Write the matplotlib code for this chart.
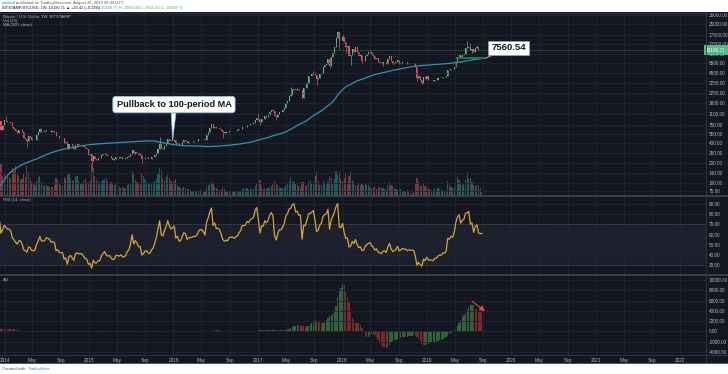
import numpy as np
import pandas as pd
import matplotlib
matplotlib.use("Agg")
import matplotlib.pyplot as plt
import matplotlib.dates as mdates
from matplotlib.patches import Rectangle
from matplotlib.lines import Line2D
from matplotlib.ticker import FixedLocator, FixedFormatter, NullLocator

plt.rcParams['font.family'] = ['Liberation Sans', 'DejaVu Sans']

# weekly closes BITSTAMP:BTCUSD, weeks start on Monday, one list per year
close_2012 = [6.9, 6.4, 6.3, 5.9, 6.0, 5.8, 4.4, 4.9, 4.9, 4.9, 5.3, 4.7, 4.9,
              4.9, 4.9, 5.0, 5.1, 5.0, 5.0, 5.0, 5.1, 5.2, 5.5, 6.0, 6.5, 6.7,
              6.8, 7.4, 8.6, 8.8, 9.4, 11.0, 11.6, 10.2, 10.6, 11.0, 11.6, 12.3,
              12.4, 12.5, 11.9, 11.8, 11.3, 10.8, 10.9, 11.3, 11.8, 12.4, 13.3,
              13.6, 13.3, 13.4, 13.6]
close_2013 = [14.1, 15.6, 17.3, 19.6, 22.0, 26.3, 29.8, 34.2, 46.9, 47.1, 65.0,
              93.0, 165, 90, 120, 127, 112, 117, 121, 133, 129, 107, 99, 107,
              95, 77, 96, 91, 95, 97, 104, 105, 122, 127, 120, 134, 127, 132,
              125, 135, 159, 188, 204, 330, 430, 780, 1030, 760, 850, 620, 740,
              900]
close_2014 = [870, 830, 840, 810, 690, 650, 600, 565, 630, 635, 580, 470, 450,
              420, 500, 490, 440, 435, 445, 525, 575, 650, 590, 590, 595, 635,
              630, 620, 590, 595, 590, 500, 510, 480, 475, 475, 400, 410, 320,
              380, 390, 355, 325, 375, 385, 375, 375, 375, 350, 330, 320, 265]
close_2015 = [270, 210, 255, 225, 222, 235, 235, 260, 274, 285, 260, 250, 253,
              235, 223, 225, 240, 240, 235, 240, 230, 228, 233, 245, 250, 270,
              310, 275, 290, 280, 265, 265, 225, 230, 240, 240, 230, 230, 240,
              245, 262, 282, 325, 385, 330, 325, 360, 395, 460, 435, 420, 430]
close_2016 = [448, 385, 400, 370, 375, 405, 437, 430, 400, 412, 412, 416, 420,
              420, 428, 449, 460, 460, 455, 443, 528, 575, 665, 760, 660, 700,
              660, 665, 655, 625, 585, 570, 580, 575, 605, 605, 608, 600, 610,
              617, 640, 655, 700, 700, 705, 740, 735, 765, 775, 790, 890, 965]
close_2017 = [905, 820, 920, 918, 1015, 1000, 1050, 1170, 1255, 1230, 1030, 970,
              1090, 1180, 1180, 1240, 1340, 1610, 1720, 2040, 2100, 2530, 2650,
              2500, 2580, 2500, 2530, 1920, 2750, 2740, 3230, 4070, 4080, 4350,
              4600, 4200, 3650, 3780, 4350, 4600, 5700, 6000, 6150, 7400, 5900,
              8050, 9300, 11200, 15300, 19100, 13900, 13800]
close_2018 = [16200, 13600, 11500, 11750, 8200, 8500, 10500, 9600, 11400, 9550,
              8200, 8500, 6950, 7000, 8300, 8900, 9350, 9650, 8700, 8200, 7350,
              7650, 6650, 6450, 6180, 6700, 6740, 6350, 7400, 8200, 7000, 6300,
              6460, 6700, 7260, 6300, 6500, 6700, 6600, 6600, 6350, 6450, 6400,
              6400, 6350, 5550, 3800, 4100, 3550, 3250, 3950, 3700, 4050]
close_2019 = [3530, 3550, 3530, 3420, 3620, 3620, 3800, 3860, 3850, 4000, 3980,
              4100, 5100, 5050, 5300, 5250, 5700, 7000, 8100, 8700, 8050, 8700,
              8950, 10750, 10800, 11400, 10200, 10550, 9500, 10800, 11300, 10300,
              10150, 10190.71]

# wick extremes that stick out of the bodies
wick_highs = {'2014-01-06': 1030, '2014-02-03': 830, '2014-06-02': 680,
              '2015-11-02': 495, '2016-06-13': 780, '2017-01-02': 1150,
              '2017-03-06': 1290, '2017-05-22': 2760, '2017-08-28': 4980,
              '2017-11-06': 7880, '2017-12-11': 19666, '2018-01-01': 17250,
              '2018-03-05': 11700, '2018-04-30': 9990, '2018-07-23': 8500,
              '2019-06-24': 13880, '2019-07-08': 13180, '2019-08-05': 12330}
wick_lows = {'2014-04-07': 340, '2015-01-12': 152, '2015-08-17': 200,
             '2016-08-01': 480, '2017-01-09': 750, '2017-03-20': 890,
             '2017-07-10': 1840, '2017-09-11': 2970, '2017-11-06': 5500,
             '2017-12-18': 10400, '2018-01-15': 9050, '2018-02-05': 6000,
             '2018-03-26': 6450, '2018-06-25': 5780, '2018-11-19': 3500,
             '2018-12-10': 3120, '2019-05-13': 6600, '2019-07-15': 9070}

# weekly volume, thousand BTC, from the week of 2013-12-09
vol_2013 = [260, 320, 200, 230]
vol_2014 = [260, 230, 190, 170, 280, 250, 300, 220, 200, 160, 170, 230, 190,
            300, 240, 170, 140, 120, 110, 150, 190, 200, 140, 110, 100, 110,
            100, 90, 95, 90, 110, 180, 160, 120, 110, 100, 190, 170, 210, 230,
            170, 150, 160, 190, 200, 150, 130, 120, 150, 180, 140, 130]
vol_2015 = [150, 330, 280, 200, 170, 150, 130, 140, 160, 170, 180, 150, 130,
            140, 120, 110, 120, 100, 90, 80, 90, 80, 80, 110, 120, 130, 250,
            220, 160, 140, 130, 120, 230, 200, 170, 140, 130, 120, 130, 140,
            150, 170, 220, 280, 260, 170, 160, 190, 210, 180, 150, 130]
vol_2016 = [150, 170, 110, 90, 80, 80, 90, 80, 70, 70, 60, 50, 50, 50, 50, 60,
            60, 60, 50, 50, 90, 110, 130, 150, 130, 90, 80, 70, 60, 60, 90, 70,
            50, 50, 50, 50, 50, 40, 40, 40, 50, 50, 70, 80, 70, 80, 60, 70, 70,
            70, 100, 130]
vol_2017 = [180, 160, 90, 70, 80, 70, 80, 90, 100, 120, 150, 130, 110, 90, 80,
            80, 90, 110, 120, 150, 190, 150, 140, 130, 110, 100, 90, 140, 140,
            100, 110, 150, 160, 130, 120, 200, 240, 150, 110, 110, 150, 130,
            120, 140, 200, 180, 130, 170, 250, 230, 240, 180]
vol_2018 = [150, 180, 220, 130, 200, 240, 160, 140, 110, 110, 130, 110, 120,
            100, 130, 110, 110, 90, 80, 90, 90, 70, 90, 90, 80, 80, 70, 60, 110,
            140, 110, 100, 80, 70, 60, 90, 70, 60, 50, 40, 60, 40, 30, 30, 40,
            120, 180, 150, 110, 100, 130, 100, 90]
vol_2019 = [80, 70, 60, 60, 80, 60, 80, 70, 60, 60, 50, 50, 150, 110, 90, 80,
            90, 170, 190, 160, 130, 110, 120, 160, 240, 170, 180, 140, 110, 100,
            110, 110, 80, 40]

price_ticks = [75, 100, 140, 200, 280, 400, 550, 750, 1100, 1600, 2250, 3250,
               4500, 6500, 9000, 12500, 17500, 25000, 35000]
rsi_ticks = [30, 40, 50, 60, 70, 80, 90]
ao_ticks = [-4000, -2000, 0, 2000, 4000, 6000, 8000, 10000]

BG = '#131722'
GRID = '#222633'
TXT = '#b2b5be'
UP = '#53b987'
DN = '#eb4d5c'

closes = (close_2012 + close_2013 + close_2014 + close_2015 + close_2016 +
          close_2017 + close_2018 + close_2019)
volumes = vol_2013 + vol_2014 + vol_2015 + vol_2016 + vol_2017 + vol_2018 + vol_2019
weeks = pd.date_range('2012-01-02', periods=len(closes), freq='7D')
x = mdates.date2num(weeks)

c = np.array(closes, dtype=float)
o = np.r_[c[0], c[:-1]]
h = np.maximum(o, c)
l = np.minimum(o, c)
for d, v in wick_highs.items():
    i = weeks.get_loc(pd.Timestamp(d))
    h[i] = max(h[i], v)
for d, v in wick_lows.items():
    i = weeks.get_loc(pd.Timestamp(d))
    l[i] = min(l[i], v)
up = c >= o

ma = pd.Series(c).rolling(100).mean().values

delta = np.diff(c, prepend=c[0])
gain = pd.Series(np.clip(delta, 0, None)).ewm(alpha=1 / 14, adjust=False).mean()
loss = pd.Series(np.clip(-delta, 0, None)).ewm(alpha=1 / 14, adjust=False).mean()
rsi = (100 - 100 / (1 + gain / loss)).values

med = pd.Series((h + l) / 2)
ao = (med.rolling(5).mean() - med.rolling(34).mean()).values
ao_up = np.r_[True, ao[1:] >= ao[:-1]]

W, H = 728.0, 374.0
fig = plt.figure(figsize=(W / 100, H / 100), dpi=100)
fig.patch.set_facecolor('white')
fig.add_artist(Rectangle((0, 1 - 363 / H), 1, 351 / H, transform=fig.transFigure,
                         facecolor=BG, edgecolor='none', zorder=-10))


def pane(top, bottom, **kw):
    return fig.add_axes([0, 1 - bottom / H, 706 / W, (bottom - top) / H], **kw)


x_left = mdates.date2num(pd.Timestamp('2013-12-11 16:00'))
x_right = mdates.date2num(pd.Timestamp('2022-04-22'))

axv = pane(13, 196)
ax = pane(13, 196, sharex=axv)
ax_rsi = pane(196, 275, sharex=axv)
ax_ao = pane(275, 355, sharex=axv)
axv.set_zorder(0)
ax.set_zorder(1)
ax.patch.set_visible(False)

# time ticks
tick_x, tick_lab = [], []
for yr in range(2014, 2023):
    for m, lab in [(1, str(yr)), (5, 'May'), (9, 'Sep')]:
        t = mdates.date2num(pd.Timestamp(yr, m, 1))
        if t < x_right:
            tick_x.append(t)
            tick_lab.append(lab)

for a in (axv, ax, ax_rsi, ax_ao):
    a.set_facecolor(BG)
    for s in a.spines.values():
        s.set_visible(False)
    a.xaxis.set_major_locator(FixedLocator(tick_x))
    a.xaxis.set_major_formatter(FixedFormatter(tick_lab))
    a.tick_params(length=0, labelsize=3.4, colors=TXT, pad=2)
    a.yaxis.tick_right()
    a.set_xlim(x_left, x_right)
for a in (axv, ax, ax_rsi):
    a.tick_params(axis='x', labelbottom=False)
axv.tick_params(axis='y', labelright=False)
axv.set_yticks([])

# volume
vx = x[-len(volumes):]
vup = up[-len(volumes):]
axv.bar(vx, volumes, width=5, color=np.where(vup, '#26a69a', '#ef5350'),
        alpha=0.5, linewidth=0)
axv.set_ylim(0, 1830)

# price
ax.set_yscale('log')
ax.set_ylim(62.5, 37060)
ax.grid(True, color=GRID, lw=0.6)
ax.yaxis.set_major_locator(FixedLocator(price_ticks))
ax.yaxis.set_major_formatter(FixedFormatter(['%.2f' % v for v in price_ticks]))
ax.yaxis.set_minor_locator(NullLocator())
cols = np.where(up, UP, DN)
ax.vlines(x, l, h, colors=cols, lw=0.5)
ax.bar(x, np.maximum(np.abs(c - o), c * 0.004), bottom=np.minimum(o, c),
       width=4.5, color=cols, linewidth=0)
ax.plot(x, ma, color='#2a95ad', lw=0.9)
ax.axhline(c[-1], color=UP, lw=0.6, alpha=0.3)

# drawings
i0 = weeks.get_loc(pd.Timestamp('2019-05-06'))
x_end = x[-1] + 14
ax.hlines(ma[-1], x[i0], x_end, color='#1f7a36', lw=1.4)

ip = weeks.get_loc(pd.Timestamp('2015-12-28'))
ax.annotate('Pullback to 100-period MA', xy=(x[ip], c[ip]), xytext=(1, 26),
            textcoords='offset points', ha='center', va='center',
            fontsize=6.6, fontweight='bold', color='#131722',
            bbox=dict(boxstyle='round,pad=0.4,rounding_size=0.3', fc='white',
                      ec='#8cc3e6', lw=0.6),
            arrowprops=dict(arrowstyle='wedge,tail_width=0.5,shrink_factor=0.5',
                            fc='white', ec='#8cc3e6', lw=0.5, shrinkA=0, shrinkB=0))
ax.annotate('7560.54', xy=(x_end, ma[-1]), xytext=(17, 7.6),
            textcoords='offset points', ha='center', va='center',
            fontsize=6.8, fontweight='bold', color='#131722',
            bbox=dict(boxstyle='square,pad=0.3', fc='white', ec='#9aa0a8', lw=0.5),
            arrowprops=dict(arrowstyle='-', color='#c8ccd2', lw=0.6,
                            shrinkA=0, shrinkB=0))

ax.text(1.0, c[-1], '%.2f' % c[-1], transform=ax.get_yaxis_transform(),
        ha='left', va='center', fontsize=3.4, color='white', zorder=6,
        clip_on=False,
        bbox=dict(boxstyle='square,pad=0.45', fc=UP, ec='none'))

# RSI
ax_rsi.set_ylim(20.5, 97.8)
ax_rsi.grid(True, color=GRID, lw=0.6)
ax_rsi.axhspan(30, 70, color='#1c202c', lw=0, zorder=0)
for lv in (30, 70):
    ax_rsi.axhline(lv, color='#4a4e59', lw=0.6, ls=(0, (1.5, 1.5)))
ax_rsi.yaxis.set_major_locator(FixedLocator(rsi_ticks))
ax_rsi.yaxis.set_major_formatter(FixedFormatter(['%.2f' % v for v in rsi_ticks]))
ax_rsi.plot(x, rsi, color='#d9a431', lw=0.9)

# AO
ax_ao.set_ylim(-4580, 11000)
ax_ao.grid(True, color=GRID, lw=0.6)
ax_ao.yaxis.set_major_locator(FixedLocator(ao_ticks))
ax_ao.yaxis.set_major_formatter(FixedFormatter(['%.2f' % v for v in ao_ticks]))
ax_ao.bar(x, np.nan_to_num(ao), width=5.5,
          color=np.where(ao_up, '#4caf50', '#e53935'), alpha=0.5, linewidth=0)
ip2 = weeks.get_loc(pd.Timestamp('2019-01-07')) + int(np.nanargmax(ao[-34:]))
ax_ao.annotate('', xy=(x_end, ao[-1] + 300), xytext=(x[ip2], ao[ip2] + 700),
               arrowprops=dict(arrowstyle='-|>,head_length=0.3,head_width=0.15',
                               color='#e0474c', lw=0.8, shrinkA=0, shrinkB=0))
ax_ao.tick_params(axis='x', pad=2.5)

# pane separators and frame
for yy in (196, 275):
    fig.add_artist(Line2D([0, 1], [1 - yy / H] * 2, transform=fig.transFigure,
                          color='#434651', lw=1.2))
for yy in (12.5, 355, 362.5):
    fig.add_artist(Line2D([0, 1], [1 - yy / H] * 2, transform=fig.transFigure,
                          color='#363a45', lw=0.6))
fig.add_artist(Line2D([706 / W] * 2, [1 - 363 / H, 1 - 12.5 / H],
                      transform=fig.transFigure, color='#363a45', lw=0.6))

# legends
fs = 3.1
fig.text(3 / W, 1 - 17 / H, 'Bitcoin / U.S. Dollar, 1W, BITSTAMP', fontsize=fs,
         color=TXT, va='center')
fig.text(3 / W, 1 - 21 / H, 'Vol (20)', fontsize=fs, color=TXT, va='center')
fig.text(3 / W, 1 - 25 / H, 'MA (100, close)', fontsize=fs, color=TXT, va='center')
fig.text(3 / W, 1 - 200 / H, 'RSI (14, close)', fontsize=fs, color=TXT, va='center')
fig.text(3 / W, 1 - 280 / H, 'AO', fontsize=fs, color=TXT, va='center')

# header and footer
fig.text(2 / W, 1 - 3 / H, 'coinbull', fontsize=3.0, color='#2a7fd4', va='center')
fig.text(16 / W, 1 - 3 / H, 'published on TradingView.com, August 26, 2019 06:42 UTC',
         fontsize=3.0, color='#50535e', va='center')
fig.text(2 / W, 1 - 8 / H, 'BITSTAMP:BTCUSD, 1W: 10190.71 \u25b2 +23.42 (+0.23%)',
         fontsize=2.8, color='#131722', va='center')
fig.text(96 / W, 1 - 8 / H, 'O: 10166.75 H: 10950.00 L: 9515.50 C: 10190.71',
         fontsize=2.8, color='#37a86a', va='center')
fig.text(2 / W, 1 - 369 / H, 'Created with', fontsize=3.0, color='#50535e',
         va='center')
fig.text(28 / W, 1 - 369 / H, 'TradingView', fontsize=3.0, color='#2a8ad4',
         va='center')

fig.savefig('out.png', dpi=100, facecolor='white')
